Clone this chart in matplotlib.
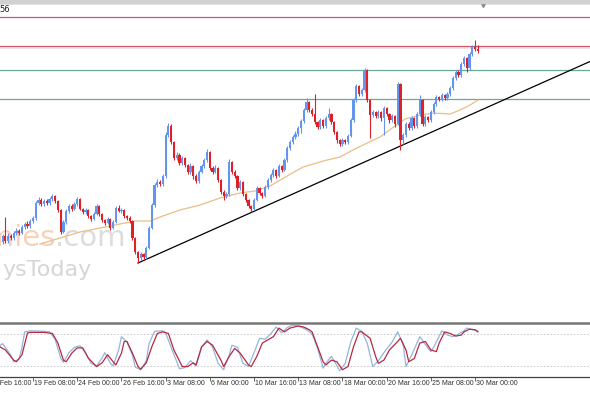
import matplotlib
matplotlib.use("Agg")
import matplotlib.pyplot as plt
import matplotlib.transforms as mtransforms
from matplotlib.patches import Rectangle
import numpy as np

# H4 bars, bar 0 = 14 Feb 16:00, a date label every 16 bars
label_bars = [0, 16, 32, 48, 64, 80, 96, 112, 128, 144, 160, 176]
date_labels = ['14 Feb 16:00', '19 Feb 08:00', '24 Feb 00:00', '26 Feb 16:00',
               '3 Mar 08:00', '6 Mar 00:00', '10 Mar 16:00', '13 Mar 08:00',
               '18 Mar 00:00', '20 Mar 16:00', '25 Mar 08:00', '30 Mar 00:00']

# candles for bars 5..177 (price in chart points)
first_bar = 5
first_open = 78
close = [84, 79, 84, 82, 87, 89, 87, 93, 96, 94,
         99, 102, 117, 120, 116, 119, 117, 121, 124, 119,
         110, 88, 98, 109, 114, 111, 116, 121, 111, 108,
         110, 104, 101, 106, 114, 106, 100, 97, 101, 92,
         98, 112, 109, 110, 104, 102, 99, 82, 68, 62,
         66, 63, 72, 92, 115, 135, 138, 136, 144, 185,
         194, 178, 162, 165, 157, 162, 155, 148, 154, 144,
         139, 148, 154, 160, 168, 152, 148, 152, 140, 128,
         124, 126, 158, 148, 144, 132, 138, 126, 120, 114,
         111, 120, 132, 127, 124, 133, 140, 145, 150, 144,
         154, 150, 160, 172, 178, 183, 186, 192, 199, 210,
         218, 210, 206, 198, 193, 200, 194, 202, 206, 198,
         188, 180, 176, 180, 178, 184, 200, 220, 234, 226,
         230, 250, 220, 205, 208, 204, 208, 202, 212, 206,
         200, 204, 196, 236, 180, 185, 196, 192, 202, 194,
         206, 220, 196, 203, 200, 208, 216, 223, 221, 225,
         222, 226, 232, 242, 248, 245, 256, 262, 252, 266,
         273, 271, 269]
high = [86, 103, 87, 86, 89, 92, 91, 95, 98, 99,
        101, 104, 119, 123, 122, 121, 121, 123, 126, 125,
        120, 111, 100, 111, 116, 116, 118, 123, 122, 112,
        112, 111, 105, 108, 116, 115, 107, 101, 103, 102,
        100, 114, 115, 112, 111, 105, 104, 100, 83, 69,
        68, 67, 74, 94, 117, 137, 141, 140, 146, 188,
        197, 196, 179, 168, 167, 164, 163, 156, 157, 155,
        146, 150, 156, 162, 171, 169, 154, 155, 153, 141,
        130, 128, 161, 159, 150, 145, 140, 139, 127, 121,
        115, 122, 134, 133, 128, 135, 142, 147, 152, 151,
        156, 155, 162, 174, 180, 185, 189, 194, 201, 212,
        222, 219, 212, 226, 199, 202, 201, 204, 212, 207,
        199, 189, 181, 182, 181, 186, 202, 222, 236, 235,
        232, 252, 251, 221, 210, 209, 210, 209, 214, 213,
        207, 206, 205, 238, 237, 187, 198, 198, 204, 203,
        208, 225, 221, 205, 204, 210, 218, 225, 224, 227,
        226, 228, 234, 244, 250, 250, 258, 264, 263, 268,
        275, 280, 275]
low = [76, 77, 77, 80, 80, 85, 85, 86, 91, 92,
       92, 97, 100, 115, 114, 114, 115, 115, 119, 117,
       108, 86, 87, 96, 107, 109, 110, 114, 110, 106,
       106, 102, 99, 100, 105, 104, 98, 95, 96, 90,
       91, 97, 108, 107, 102, 100, 97, 80, 66, 57,
       60, 60, 61, 71, 91, 113, 133, 134, 134, 142,
       183, 176, 160, 160, 155, 155, 153, 146, 146, 141,
       137, 137, 147, 152, 158, 150, 146, 147, 138, 126,
       120, 122, 124, 146, 142, 130, 130, 124, 118, 112,
       108, 110, 119, 125, 122, 123, 131, 138, 143, 142,
       143, 148, 149, 158, 170, 176, 181, 184, 187, 197,
       208, 208, 204, 196, 191, 191, 192, 192, 200, 196,
       186, 177, 174, 174, 176, 176, 183, 198, 218, 224,
       224, 228, 218, 182, 203, 202, 202, 199, 185, 204,
       197, 198, 193, 195, 170, 176, 183, 190, 190, 192,
       192, 204, 194, 194, 198, 198, 206, 214, 219, 219,
       220, 220, 224, 230, 240, 243, 243, 254, 248, 250,
       264, 269, 267]

# moving average as drawn on the chart
ma_bar = [18.5, 25.8, 33.0, 40.3, 47.5, 52.9, 58.4, 62.0, 69.2, 76.5, 83.7, 90.9,
          96.4, 101.8, 108.0, 113.7, 122.4, 127.1, 131.8, 136.2, 141.6, 147.0,
          150.7, 156.1, 160.8, 167.0, 170.6, 174.2, 177.1]
ma_val = [76, 82, 88, 92, 96, 99, 99, 103, 110, 115, 122, 127,
          129, 134, 144, 153, 160, 163, 170, 176, 183, 194,
          201, 205, 207, 206, 210, 215, 220]

# trend line and horizontal levels
trend_bar = [54, 218]
trend_val = [57, 259]
res_levels = [303, 274]
sup_levels = [250, 221]

# stochastic oscillator
stoch_k_bar = [4, 5, 8, 9, 11, 12, 13, 15, 20, 22, 24, 26, 27, 29, 31, 33, 35, 37, 39,
               41, 42, 44, 45, 47, 48, 50, 52, 53, 55, 57, 58, 60, 63, 64, 66, 69, 71,
               73, 75, 77, 79, 81, 83, 85, 87, 88, 90, 92, 94, 96, 98, 100, 102, 104,
               106, 108, 110, 113, 115, 117, 119, 121, 122, 124, 125, 127, 129, 131,
               133, 135, 137, 139, 141, 143, 146, 148, 150, 151, 153, 156, 158, 160,
               161, 164, 166, 168, 170, 172, 173, 175, 177]
stoch_k_val = [58, 62, 40, 28, 33, 55, 84, 86, 85, 84, 70, 35, 27, 45, 55, 58, 45, 25, 20,
               35, 45, 25, 20, 50, 75, 65, 40, 18, 13, 30, 62, 85, 86, 82, 55, 15, 17,
               30, 20, 55, 69, 55, 25, 13, 40, 59, 55, 25, 19, 45, 72, 70, 80, 93,
               82, 92, 97, 93, 88, 80, 53, 16, 25, 38, 30, 11, 25, 65,
               91, 85, 62, 19, 30, 45, 65, 84, 60, 19, 40, 75, 60, 47,
               55, 86, 78, 75, 80, 86, 91, 88, 86]
stoch_d_bar = [4, 6, 9, 10, 12, 14, 15, 20, 23, 25, 27, 28, 30, 32, 34, 36, 39, 41, 43,
               45, 46, 48, 49, 50, 52, 54, 55, 57, 59, 61, 63, 65, 67, 70, 72, 74, 75,
               77, 79, 81, 84, 85, 87, 89, 91, 94, 95, 97, 99, 101, 103, 105, 107, 109,
               112, 114, 116, 117, 119, 121, 122, 124, 126, 128, 130, 132, 134, 135,
               138, 140, 141, 143, 145, 148, 149, 151, 152, 154, 156, 158, 160, 162,
               163, 165, 167, 169, 171, 172, 174, 176, 177]
stoch_d_val = [56, 50, 31, 28, 41, 82, 83, 83, 81, 63, 31, 28, 44, 54, 54, 35, 19, 26, 41,
               28, 22, 44, 66, 66, 44, 19, 14, 26, 56, 81, 84, 81, 50, 19, 19, 26, 22,
               56, 66, 59, 31, 19, 38, 53, 44, 22, 19, 38, 63, 69, 75, 91, 84, 91,
               95, 93, 88, 84, 56, 28, 22, 31, 28, 13, 19, 56, 84, 84,
               72, 38, 25, 31, 50, 66, 72, 50, 28, 34, 63, 66, 50, 47,
               63, 84, 81, 76, 78, 84, 89, 88, 84]

BLUE = '#6495ed'
RED = '#de2129'

W, H = 590.0, 393.0
fig = plt.figure(figsize=(5.9, 3.93), dpi=100)
fig.patch.set_facecolor('white')

ax = fig.add_axes([0, 71 / H, 1, 319 / H])
ax2 = fig.add_axes([0, 16.3 / H, 1, 53.4 / H])

xmin, xmax = 4.05, 217.6

# --- main chart ---
bars = np.arange(first_bar, first_bar + len(close))
c = np.array(close, dtype=float)
o = np.concatenate([[first_open], c[:-1]])
up = c >= o
cols = np.where(up, BLUE, RED)

for v in res_levels:
    ax.axhline(v, color='#c45a6c', lw=0.9, zorder=1)
ax.axhspan(res_levels[1] - 3, res_levels[1] - 0.5, color='#f1e4e8', lw=0, zorder=0.4)
for v in sup_levels:
    ax.axhline(v, color='#6aa89a', lw=0.9, zorder=1)

ax.plot(ma_bar, ma_val, color='#ecbd85', lw=0.9, zorder=1.5)
ax.plot(trend_bar, trend_val, color='black', lw=0.9, zorder=1.6)

ax.vlines(bars, low, high, colors=cols, lw=0.8, zorder=2)
ax.bar(bars, c - o, bottom=o, width=0.8, color=cols, linewidth=0, zorder=2.1)

# watermark
ax.text(55 / W, 1 - 246 / H, 'Economies', transform=fig.transFigure, ha='right',
        va='baseline', fontsize=21, color='#f6d2b8', zorder=0.5)
ax.text(55 / W, 1 - 246 / H, '.com', transform=fig.transFigure, ha='left',
        va='baseline', fontsize=21, color='#dcdcdc', zorder=0.5)
ax.text(92 / W, 1 - 276 / H, 'ysToday', transform=fig.transFigure, ha='right',
        va='baseline', fontsize=16, color='#d6d6d6', zorder=0.5)

ax.text(-1 / W, 1 - 9 / H, '56', transform=fig.transFigure, ha='left', va='center',
        fontsize=6, color='#202020')

ax.set_xlim(xmin, xmax)
ax.set_ylim(-2, 317)
ax.set_xticks([])
ax.set_yticks([])
for s in ['left', 'right', 'bottom']:
    ax.spines[s].set_visible(False)
ax.spines['top'].set_color('#8c8c8c')
ax.spines['top'].set_linewidth(1.0)

# top strip and chart-shift marker
fig.patches.append(Rectangle((0, 1 - 2.5 / H), 1, 2.5 / H, transform=fig.transFigure,
                             color='#d2d2d2', zorder=0))
ax.plot([483 / W], [1 - 4 / H], marker='v', ms=4, color='#8a8a8a',
        transform=fig.transFigure, clip_on=False)

# --- stochastic ---
for lvl in [20, 80]:
    ax2.axhline(lvl, color='#c4c4c4', lw=0.6, ls=(0, (2, 2)))
ax2.plot(stoch_k_bar, stoch_k_val, color='#93b6dc', lw=0.9)
ax2.plot(stoch_d_bar, stoch_d_val, color='#b52a42', lw=0.9)
ax2.set_xlim(xmin, xmax)
ax2.set_ylim(0, 100)
ax2.set_yticks([])
ax2.set_xticks(label_bars[1:])
ax2.tick_params(axis='x', length=3, width=0.6, color='#505050', labelbottom=False,
                direction='out')
for s in ['left', 'right']:
    ax2.spines[s].set_visible(False)
ax2.spines['top'].set_color('#767676')
ax2.spines['top'].set_linewidth(1.8)
ax2.spines['bottom'].set_color('#404040')
ax2.spines['bottom'].set_linewidth(0.9)

trans = mtransforms.blended_transform_factory(ax2.transData, ax2.transAxes)
for b, lab in zip(label_bars, date_labels):
    ax2.text(b + 0.4, -0.125, lab, transform=trans, ha='left', va='center',
             fontsize=5, family='Liberation Sans', color='#303030', clip_on=False)

fig.savefig('out.png', dpi=100)
